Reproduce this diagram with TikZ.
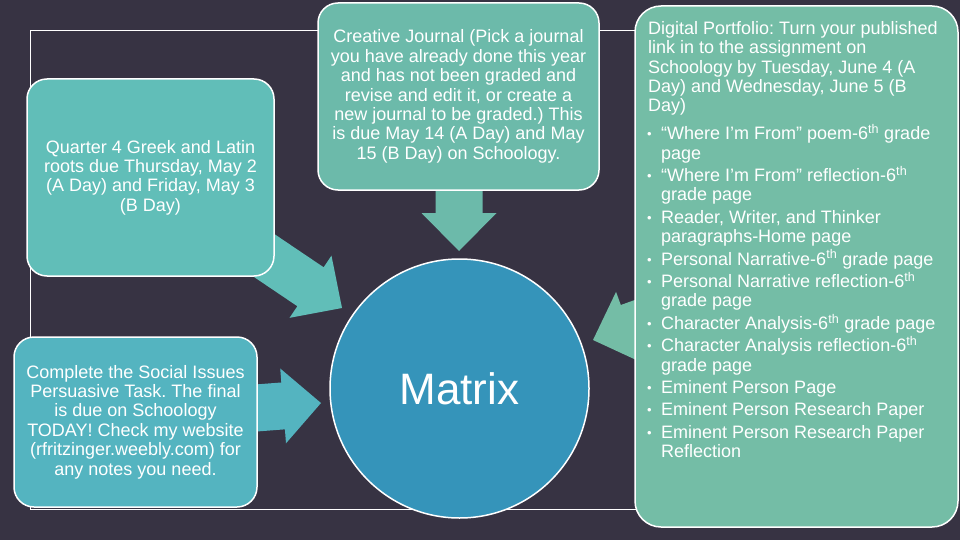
\documentclass[tikz,border=0pt]{standalone}
\usepackage{fontspec}
\setmainfont{Liberation Sans}
\frenchspacing
\definecolor{bgc}{RGB}{55,51,67}
\definecolor{cA}{RGB}{97,190,184}
\definecolor{cB}{RGB}{84,180,192}
\definecolor{cC}{RGB}{108,186,170}
\definecolor{cD}{RGB}{116,189,166}
\definecolor{cM}{RGB}{53,148,186}
\newcommand\blockarrow[4]{%
  \begin{scope}[shift={(#1)}, rotate=#2]
    \fill[#3] (0,0) -- (-38,37.5) -- (-38,23.5) -- (-#4,23.5) -- (-#4,-23.5) -- (-38,-23.5) -- (-38,-37.5) -- cycle;
  \end{scope}}
\newcommand\itembul{\makebox[13pt][l]{\hspace{-1pt}\raisebox{1pt}{\fontsize{13}{13}\selectfont•}}}
\begin{document}
\begin{tikzpicture}[x=1pt,y=-1pt,
  box/.style={draw=white, line width=1.5pt, rounded corners=20pt, text=white, align=center, inner sep=0pt, font=\fontsize{18}{19.4}\selectfont},
  frame/.style={draw=white, line width=0.8pt, inner sep=0pt, anchor=north west}]
\useasboundingbox (0,0) rectangle (960,540);
\fill[bgc] (0,0) rectangle (960,540);
\node[frame, minimum width=900pt, minimum height=479pt] (outline) at (30,30) {};
% block arrows
\blockarrow{342,308}{-34}{cA}{110}
\blockarrow{321,403}{4.4}{cB}{80}
\blockarrow{459,251}{-90}{cC}{80}
\blockarrow{593,340}{199.8}{cD}{80}
% boxes
\node[box, fill=cA, minimum width=247pt, minimum height=197pt] (roots) at (150.5,177.5)
  {Quarter 4 Greek and Latin\\roots due Thursday, May 2\\(A Day) and Friday, May 3\\(B Day)};
\node[box, fill=cB, minimum width=243pt, minimum height=170pt] (social) at (135.5,422)
  {Complete the Social Issues\\Persuasive Task. The final\\is due on Schoology\\TODAY! Check my website\\(rfritzinger.weebly.com) for\\any notes you need.};
\node[box, fill=cC, minimum width=281pt, minimum height=187pt] (journal) at (458.5,96.5)
  {Creative Journal (Pick a journal\\you have already done this year\\and has not been graded and\\revise and edit it, or create a\\new journal to be graded.) This\\is due May 14 (A Day) and May\\15 (B Day) on Schoology.};
\node[box, fill=cD, rounded corners=26pt, minimum width=323pt, minimum height=521pt] (portfolio) at (796.5,266.5) {};
\node[anchor=north west, align=left, text=white, inner sep=0pt, font=\fontsize{18}{19.4}\selectfont] (portfoliotext) at (648,21)
  {Digital Portfolio: Turn your published\\
   link in to the assignment on\\
   Schoology by Tuesday, June 4 (A\\
   Day) and Wednesday, June 5 (B\\
   Day)\\[8.5pt]
   \itembul“Where I’m From” poem-6\textsuperscript{th} grade\\
   \hspace*{13pt}page\\[3pt]
   \itembul“Where I’m From” reflection-6\textsuperscript{th}\\
   \hspace*{13pt}grade page\\[3pt]
   \itembul Reader, Writer, and Thinker\\
   \hspace*{13pt}paragraphs-Home page\\[3pt]
   \itembul Personal Narrative-6\textsuperscript{th} grade page\\[3pt]
   \itembul Personal Narrative reflection-6\textsuperscript{th}\\
   \hspace*{13pt}grade page\\[3pt]
   \itembul Character Analysis-6\textsuperscript{th} grade page\\[3pt]
   \itembul Character Analysis reflection-6\textsuperscript{th}\\
   \hspace*{13pt}grade page\\[3pt]
   \itembul Eminent Person Page\\[3pt]
   \itembul Eminent Person Research Paper\\[3pt]
   \itembul Eminent Person Research Paper\\
   \hspace*{13pt}Reflection};
% centre circle
\node[circle, draw=white, line width=1.5pt, fill=cM, minimum size=259pt, inner sep=0pt, text=white, font=\fontsize{44}{44}\selectfont] (matrix) at (459.5,388.5) {Matrix};
\end{tikzpicture}
\end{document}
